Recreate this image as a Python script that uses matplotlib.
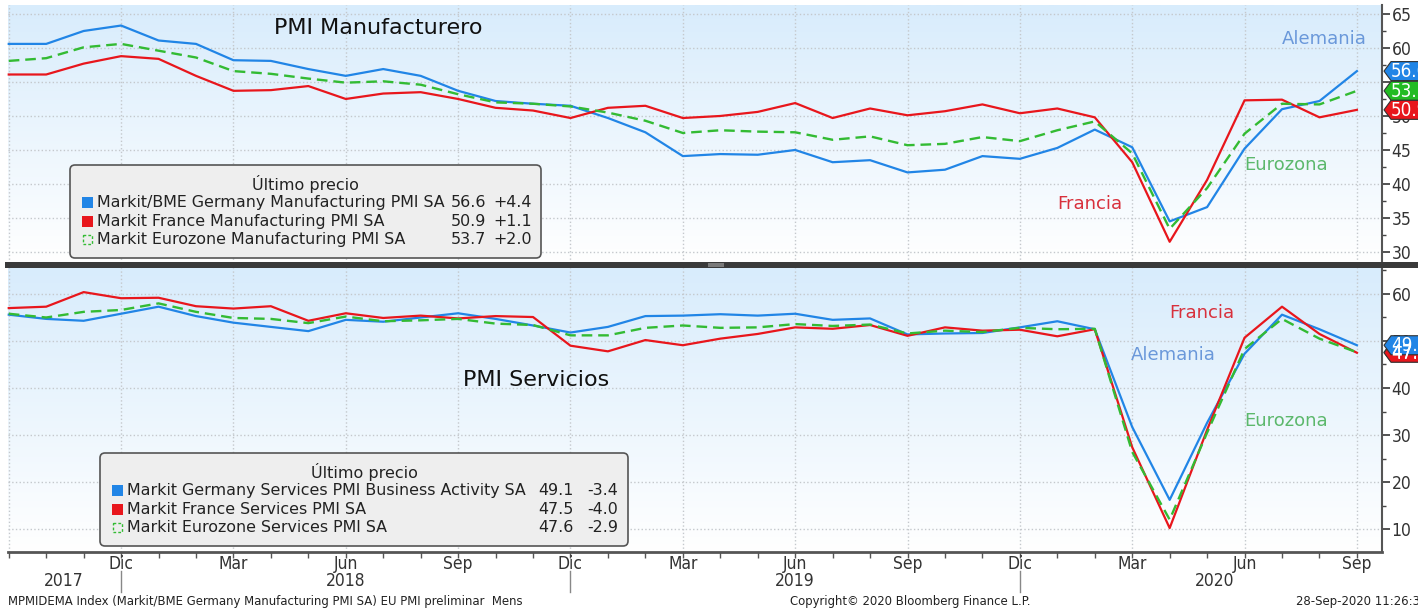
import numpy as np
import matplotlib
matplotlib.use('Agg')
from matplotlib import pyplot as plt
from matplotlib import transforms as mtrans
from matplotlib.patches import FancyBboxPatch, Rectangle, Polygon

W, H = 1418, 610

# meses desde Sep 2017 hasta Sep 2020
months = np.arange(37)
quarter_labels = ['Dic', 'Mar', 'Jun', 'Sep']
years = ['2017', '2018', '2019', '2020']

# PMI manufacturero
ger_man = [60.6, 60.6, 62.5, 63.3, 61.1, 60.6, 58.2, 58.1, 56.9, 55.9, 56.9, 55.9,
           53.7, 52.2, 51.8, 51.5, 49.7, 47.6, 44.1, 44.4, 44.3, 45.0, 43.2, 43.5,
           41.7, 42.1, 44.1, 43.7, 45.3, 48.0, 45.4, 34.5, 36.6, 45.2, 51.0, 52.2, 56.6]
fra_man = [56.1, 56.1, 57.7, 58.8, 58.4, 55.9, 53.7, 53.8, 54.4, 52.5, 53.3, 53.5,
           52.5, 51.2, 50.8, 49.7, 51.2, 51.5, 49.7, 50.0, 50.6, 51.9, 49.7, 51.1,
           50.1, 50.7, 51.7, 50.4, 51.1, 49.8, 43.2, 31.5, 40.6, 52.3, 52.4, 49.8, 50.9]
ez_man = [58.1, 58.5, 60.1, 60.6, 59.6, 58.6, 56.6, 56.2, 55.5, 54.9, 55.1, 54.6,
          53.2, 52.0, 51.8, 51.4, 50.5, 49.3, 47.5, 47.9, 47.7, 47.6, 46.5, 47.0,
          45.7, 45.9, 46.9, 46.3, 47.9, 49.2, 44.5, 33.4, 39.4, 47.4, 51.8, 51.7, 53.7]

# PMI servicios
ger_ser = [55.6, 54.7, 54.3, 55.8, 57.3, 55.3, 53.9, 53.0, 52.1, 54.5, 54.1, 55.0,
           55.9, 54.7, 53.3, 51.8, 53.0, 55.3, 55.4, 55.7, 55.4, 55.8, 54.5, 54.8,
           51.4, 51.6, 51.7, 52.9, 54.2, 52.5, 31.7, 16.2, 32.6, 47.3, 55.6, 52.5, 49.1]
fra_ser = [57.0, 57.3, 60.4, 59.1, 59.2, 57.4, 56.9, 57.4, 54.3, 55.9, 54.9, 55.4,
           54.8, 55.3, 55.1, 49.0, 47.8, 50.2, 49.1, 50.5, 51.5, 52.9, 52.6, 53.4,
           51.1, 52.9, 52.2, 52.4, 51.0, 52.5, 27.4, 10.2, 31.1, 50.7, 57.3, 51.5, 47.5]
ez_ser = [55.8, 55.0, 56.2, 56.6, 58.0, 56.2, 54.9, 54.7, 53.8, 55.2, 54.2, 54.4,
          54.7, 53.7, 53.4, 51.2, 51.2, 52.8, 53.3, 52.8, 52.9, 53.6, 53.2, 53.5,
          51.6, 52.2, 51.9, 52.8, 52.5, 52.6, 26.4, 12.0, 30.5, 48.3, 54.7, 50.5, 47.6]

man_legend = [('Markit/BME Germany Manufacturing PMI SA', '56.6', '+4.4'),
              ('Markit France Manufacturing PMI SA', '50.9', '+1.1'),
              ('Markit Eurozone Manufacturing PMI SA', '53.7', '+2.0')]
ser_legend = [('Markit Germany Services PMI Business Activity SA', '49.1', '-3.4'),
              ('Markit France Services PMI SA', '47.5', '-4.0'),
              ('Markit Eurozone Services PMI SA', '47.6', '-2.9')]

BLUE, RED, GREEN = '#2185e6', '#e8161c', '#33bb33'
COND = dict(family='DejaVu Sans', fontstretch='condensed')

plt.rcParams['font.family'] = ['DejaVu Sans']

fig = plt.figure(figsize=(W / 100, H / 100), dpi=100)
fig.patch.set_facecolor('white')

# transform en pixeles con origen arriba a la izquierda
pxT = mtrans.Affine2D().scale(1 / W, -1 / H).translate(0, 1) + fig.transFigure


def axes_px(x0, y0, x1, y1):
    return [x0 / W, 1 - y1 / H, (x1 - x0) / W, (y1 - y0) / H]


ax1 = fig.add_axes(axes_px(8, 5, 1382, 263))
ax2 = fig.add_axes(axes_px(8, 268, 1382, 552))

xlim = (-0.02, 36.67)
grad = np.linspace(0, 1, 256).reshape(-1, 1)
top_col = np.array([216, 236, 252]) / 255
cmap = matplotlib.colors.LinearSegmentedColormap.from_list('bg', [top_col, (1, 1, 1)])

for ax, ylim, major, minor in [(ax1, (28.38, 66.32), 5, 2.5), (ax2, (5.11, 65.53), 10, 5)]:
    ax.imshow(grad, extent=[xlim[0], xlim[1], ylim[0], ylim[1]], aspect='auto',
              cmap=cmap, zorder=0, origin='upper')
    ax.set_xlim(xlim)
    ax.yaxis.tick_right()
    ax.set_yticks(np.arange(10, 70, major))
    ax.set_yticks(np.arange(5, 70, minor), minor=True)
    ax.set_ylim(ylim)
    ax.tick_params(axis='y', which='major', direction='out', length=6, width=1.3,
                   color='#444444', labelsize=12.5, labelcolor='#333333', pad=1)
    ax.tick_params(axis='y', which='minor', direction='out', length=3, width=1,
                   color='#444444')
    for lab in ax.get_yticklabels():
        lab.set_fontstretch('condensed')
    ax.set_xticks(np.arange(0, 37, 3))
    ax.set_xticks(months, minor=True)
    ax.grid(True, which='major', color='#c4c8cc', linestyle=':', linewidth=1)
    for s in ['top', 'left', 'bottom']:
        ax.spines[s].set_visible(False)
    ax.spines['right'].set_color('#555555')
    ax.spines['right'].set_linewidth(1.5)

ax1.tick_params(axis='x', which='both', length=0, labelbottom=False)

ax2.spines['bottom'].set_visible(True)
ax2.spines['bottom'].set_color('#555555')
ax2.spines['bottom'].set_linewidth(2)
ax2.set_xticklabels([''] + [quarter_labels[i % 4] for i in range(12)])
ax2.tick_params(axis='x', which='major', direction='out', length=4, width=1,
                color='#555555', labelsize=12.5, labelcolor='#333333', pad=-2)
ax2.tick_params(axis='x', which='minor', direction='out', length=4, width=1,
                color='#555555')
for lab in ax2.get_xticklabels():
    lab.set_fontstretch('condensed')

# series
for ax, g, f, e in [(ax1, ger_man, fra_man, ez_man), (ax2, ger_ser, fra_ser, ez_ser)]:
    ax.plot(months, g, color=BLUE, lw=1.6, zorder=3, clip_on=False)
    ax.plot(months, f, color=RED, lw=1.6, zorder=3, clip_on=False)
    ax.plot(months, e, color=GREEN, lw=1.7, dashes=(4.5, 2.5), zorder=4, clip_on=False)

# titulos y etiquetas de serie
fig.text(378, 28, 'PMI Manufacturero', transform=pxT, ha='center', va='center',
         fontsize=16, color='#111111')
fig.text(536, 380, 'PMI Servicios', transform=pxT, ha='center', va='center',
         fontsize=16, color='#111111')

lab_specs = [('Alemania', 1324, 39, '#6a98da'), ('Eurozona', 1286, 165, '#5cb86c'),
             ('Francia', 1090, 204, '#d8303c'), ('Francia', 1202, 313, '#d8303c'),
             ('Alemania', 1173, 355, '#6a98da'), ('Eurozona', 1286, 421, '#5cb86c')]
for txt, x, y, c in lab_specs:
    fig.text(x, y, txt, transform=pxT, ha='center', va='center', fontsize=13, color=c, zorder=5)


# cuadros de leyenda
def legend_box(x0, y0, x1, y1, rows, val_x, chg_x):
    box = FancyBboxPatch((x0, y0), x1 - x0, y1 - y0, boxstyle='round,pad=0,rounding_size=5',
                         transform=pxT, facecolor='#eeeeee', edgecolor='#555555', lw=1.2,
                         zorder=10)
    fig.patches.append(box)
    fig.text((x0 + x1) / 2, y0 + 19, 'Último precio', transform=pxT, ha='center', va='center',
             fontsize=11.5, color='#222222', zorder=11)
    for k, (name, val, chg) in enumerate(rows):
        yy = y0 + 37.5 + k * 18.7
        col = [BLUE, RED, GREEN][k]
        if k < 2:
            sq = Rectangle((x0 + 12, yy - 5.5), 11, 11, transform=pxT, facecolor=col,
                           edgecolor='none', zorder=11)
        else:
            sq = Rectangle((x0 + 13, yy - 4.5), 9, 9, transform=pxT, facecolor='none',
                           edgecolor=col, lw=1, linestyle=(0, (2, 1.5)), zorder=11)
        fig.patches.append(sq)
        fig.text(x0 + 27, yy, name, transform=pxT, ha='left', va='center', fontsize=11.4,
                 color='#222222', zorder=11)
        fig.text(val_x, yy, val, transform=pxT, ha='right', va='center', fontsize=11.4,
                 color='#222222', zorder=11)
        fig.text(chg_x, yy, chg, transform=pxT, ha='right', va='center', fontsize=11.4,
                 color='#222222', zorder=11)


legend_box(70, 165, 541, 258, man_legend, 486, 532)
legend_box(100, 453, 628, 546, ser_legend, 574, 618)


# etiquetas de ultimo valor en el eje derecho
def value_tag(ax, v, col):
    yd = ax.transData.transform((0, v))[1]
    yc = H - yd * H / fig.bbox.height
    verts = [(1384, yc), (1391, yc - 9.5), (1440, yc - 9.5), (1440, yc + 9.5), (1391, yc + 9.5)]
    poly = Polygon(verts, closed=True, transform=pxT, facecolor=col, edgecolor='#333333',
                   lw=0.8, zorder=20)
    fig.patches.append(poly)
    fig.text(1391, yc + 0.5, f'{v:.1f}', transform=pxT, ha='left', va='center', fontsize=13.5,
             color='white', zorder=21, fontstretch='condensed')


value_tag(ax1, ger_man[-1], BLUE)
value_tag(ax1, ez_man[-1], '#22bb22')
value_tag(ax1, fra_man[-1], RED)
value_tag(ax2, ez_ser[-1], '#22bb22')
value_tag(ax2, fra_ser[-1], RED)
value_tag(ax2, ger_ser[-1], BLUE)

# separador entre paneles
fig.patches.append(Rectangle((5, 262), W, 5.5, transform=pxT, facecolor='#3a3a3a',
                             edgecolor='none', zorder=15))
fig.patches.append(Rectangle((708, 262.5), 16, 4.5, transform=pxT, facecolor='#7a7a7a',
                             edgecolor='none', zorder=16))

# anos y separadores
bt = mtrans.blended_transform_factory(ax2.transData, pxT)
for x, yr in zip([1.47, 9, 21, 32.2], years):
    fig.text(x, 581, yr, transform=bt, ha='center', va='center', fontsize=12.5,
             color='#333333', **COND)
for x in [3, 15, 27]:
    fig.lines.append(matplotlib.lines.Line2D([x, x], [571, 592], transform=bt,
                                             color='#888888', lw=1))

# pie
fig.text(8, 601, 'MPMIDEMA Index (Markit/BME Germany Manufacturing PMI SA) EU PMI preliminar  Mens',
         transform=pxT, ha='left', va='center', fontsize=9.4, color='#222222', **COND)
fig.text(790, 601, 'Copyright\u00a9 2020 Bloomberg Finance L.P.', transform=pxT, ha='left',
         va='center', fontsize=9.4, color='#222222', **COND)
fig.text(1296, 601, '28-Sep-2020 11:26:30', transform=pxT, ha='left', va='center',
         fontsize=9.4, color='#222222', **COND)

fig.savefig('out.png', dpi=100)
